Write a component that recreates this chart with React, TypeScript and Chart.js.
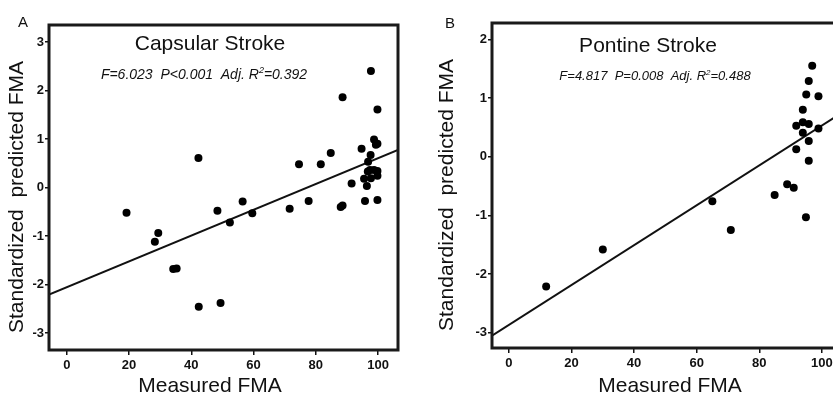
import React, { useEffect, useRef } from "react";
import { Chart, registerables } from "chart.js";

Chart.register(...registerables);

// ---------- Data ----------
const capsularX = [19.2, 28.3, 29.4, 34.2, 35.3, 42.3, 42.4, 48.4, 49.4, 52.4, 56.5, 59.6, 71.6, 74.6, 77.7, 81.6, 84.8, 88.0, 88.6, 88.6, 91.5, 94.7, 95.5, 95.8, 96.4, 96.8, 97.6, 97.4, 96.7, 97.7, 97.7, 98.7, 98.7, 99.8, 99.3, 99.8, 99.8, 99.8, 99.8];
const capsularY = [-0.52, -1.12, -0.94, -1.68, -1.67, 0.61, -2.46, -0.48, -2.38, -0.72, -0.29, -0.53, -0.44, 0.48, -0.28, 0.48, 0.71, -0.40, -0.37, 1.86, 0.08, 0.80, 0.18, -0.28, 0.03, 0.53, 0.67, 0.36, 0.33, 0.19, 2.40, 0.36, 0.99, 0.90, 0.88, 1.61, 0.34, 0.24, -0.26];
const capsularFit = { intercept: -2.058, slope: 0.02664 };

const pontineX = [11.9, 30.0, 65.0, 70.9, 84.9, 88.9, 91.0, 91.8, 91.8, 93.9, 93.9, 93.9, 94.9, 95.0, 95.8, 95.8, 95.8, 95.8, 96.9, 98.9, 98.9];
const pontineY = [-2.21, -1.58, -0.76, -1.25, -0.65, -0.47, -0.53, 0.13, 0.53, 0.80, 0.59, 0.41, -1.03, 1.06, 1.29, 0.56, 0.27, -0.07, 1.55, 1.03, 0.48];
const pontineFit = { intercept: -2.866, slope: 0.034 };

const xTicks = [0, 20, 40, 60, 80, 100];
const yTicksA = [-3, -2, -1, 0, 1, 2, 3];
const yTicksB = [-3, -2, -1, 0, 1, 2];

const FONT = "'Liberation Sans', Arial, Helvetica, sans-serif";

type PanelCfg = {
  xs: number[];
  ys: number[];
  fit: { intercept: number; slope: number };
  xMin: number;
  xMax: number;
  yMin: number;
  yMax: number;
  yTicks: number[];
  letter: string;
  title: string;
  statsPre: string;
  statsPost: string;
  statsSize: number;
  yAxisWidth: number;
  xAxisHeight: number;
  padTop: number;
  padRight: number;
  letterPos: [number, number];
  titlePos: [number, number];
  statsPos: [number, number];
  yTitlePos: [number, number];
  xTitlePos: [number, number];
};

function makeChart(canvas: HTMLCanvasElement, c: PanelCfg) {
  const textPlugin = {
    id: "panelText",
    afterDraw(chart: any) {
      const ctx = chart.ctx as CanvasRenderingContext2D;
      const a = chart.chartArea;
      ctx.save();
      // box
      ctx.strokeStyle = "#1a1a1a";
      ctx.lineWidth = 3;
      ctx.strokeRect(a.left, a.top, a.right - a.left, a.bottom - a.top);
      ctx.fillStyle = "#111";
      // letter
      ctx.font = `15px ${FONT}`;
      ctx.textAlign = "left";
      ctx.textBaseline = "alphabetic";
      ctx.fillText(c.letter, c.letterPos[0], c.letterPos[1]);
      // title
      ctx.font = `21px ${FONT}`;
      ctx.textAlign = "center";
      ctx.fillText(c.title, c.titlePos[0], c.titlePos[1]);
      // stats with superscript
      const f = `italic ${c.statsSize}px ${FONT}`;
      const fs = `italic ${Math.round(c.statsSize * 0.62)}px ${FONT}`;
      ctx.font = f;
      const w1 = ctx.measureText(c.statsPre).width;
      const w3 = ctx.measureText(c.statsPost).width;
      ctx.font = fs;
      const w2 = ctx.measureText("2").width;
      let x = c.statsPos[0] - (w1 + w2 + w3) / 2;
      const y = c.statsPos[1];
      ctx.textAlign = "left";
      ctx.font = f;
      ctx.fillText(c.statsPre, x, y);
      x += w1;
      ctx.font = fs;
      ctx.fillText("2", x, y - c.statsSize * 0.42);
      x += w2;
      ctx.font = f;
      ctx.fillText(c.statsPost, x, y);
      // axis titles
      ctx.font = `21px ${FONT}`;
      ctx.textAlign = "center";
      ctx.textBaseline = "alphabetic";
      ctx.fillText("Measured FMA", c.xTitlePos[0], c.xTitlePos[1]);
      ctx.translate(c.yTitlePos[0], c.yTitlePos[1]);
      ctx.rotate(-Math.PI / 2);
      ctx.textBaseline = "middle";
      ctx.fillText("Standardized  predicted FMA", 0, 0);
      ctx.restore();
    },
  };

  const points = c.xs.map((x, i) => ({ x, y: c.ys[i] }));
  const line = [
    { x: c.xMin, y: c.fit.intercept + c.fit.slope * c.xMin },
    { x: c.xMax, y: c.fit.intercept + c.fit.slope * c.xMax },
  ];

  return new Chart(canvas, {
    type: "scatter",
    data: {
      datasets: [
        {
          data: points,
          backgroundColor: "#000",
          borderColor: "#000",
          pointRadius: 4,
          pointHoverRadius: 4,
          borderWidth: 0,
        },
        {
          type: "line",
          data: line,
          borderColor: "#111",
          borderWidth: 2,
          pointRadius: 0,
          fill: false,
        } as any,
      ],
    },
    options: {
      responsive: false,
      animation: false,
      events: [],
      layout: { padding: { top: c.padTop, right: c.padRight, left: 0, bottom: 0 } },
      plugins: { legend: { display: false }, tooltip: { enabled: false }, title: { display: false } },
      scales: {
        x: {
          type: "linear",
          min: c.xMin,
          max: c.xMax,
          afterBuildTicks: (s: any) => {
            s.ticks = xTicks.map((v) => ({ value: v }));
          },
          afterFit: (s: any) => {
            s.height = c.xAxisHeight;
          },
          grid: { display: true, drawOnChartArea: false, drawTicks: true, tickLength: 5, color: "#111", lineWidth: 1.5 },
          border: { display: false },
          ticks: { color: "#111", font: { family: FONT, size: 13, weight: "bold" }, padding: 3, maxRotation: 0 },
        },
        y: {
          type: "linear",
          min: c.yMin,
          max: c.yMax,
          afterBuildTicks: (s: any) => {
            s.ticks = c.yTicks.map((v) => ({ value: v }));
          },
          afterFit: (s: any) => {
            s.width = c.yAxisWidth;
          },
          grid: { display: true, drawOnChartArea: false, drawTicks: true, tickLength: 4, color: "#111", lineWidth: 1.5 },
          border: { display: false },
          ticks: { color: "#111", font: { family: FONT, size: 13, weight: "bold" }, padding: 1 },
        },
      },
    },
    plugins: [textPlugin],
  } as any);
}

const panelA: PanelCfg = {
  xs: capsularX,
  ys: capsularY,
  fit: capsularFit,
  xMin: -5.7,
  xMax: 106.4,
  yMin: -3.35,
  yMax: 3.35,
  yTicks: yTicksA,
  letter: "A",
  title: "Capsular Stroke",
  statsPre: "F=6.023  P<0.001  Adj. R",
  statsPost: "=0.392",
  statsSize: 14,
  yAxisWidth: 49,
  xAxisHeight: 47,
  padTop: 25,
  padRight: 12,
  letterPos: [18, 27],
  titlePos: [210, 50],
  statsPos: [204, 79],
  yTitlePos: [17, 197],
  xTitlePos: [210, 392],
};

const panelB: PanelCfg = {
  xs: pontineX,
  ys: pontineY,
  fit: pontineFit,
  xMin: -5.4,
  xMax: 106.1,
  yMin: -3.26,
  yMax: 2.28,
  yTicks: yTicksB,
  letter: "B",
  title: "Pontine Stroke",
  statsPre: "F=4.817  P=0.008  Adj. R",
  statsPost: "=0.488",
  statsSize: 13,
  yAxisWidth: 82,
  xAxisHeight: 49,
  padTop: 23,
  padRight: 9,
  letterPos: [35, 28],
  titlePos: [238, 52],
  statsPos: [245, 80],
  yTitlePos: [37, 195],
  xTitlePos: [260, 392],
};

export default function App() {
  const refA = useRef<HTMLCanvasElement>(null);
  const refB = useRef<HTMLCanvasElement>(null);
  useEffect(() => {
    const a = makeChart(refA.current!, panelA);
    const b = makeChart(refB.current!, panelB);
    return () => {
      a.destroy();
      b.destroy();
    };
  }, []);
  return (
    <div style={{ position: "fixed", left: 0, top: 0, width: 833, height: 397, overflow: "hidden", background: "#fff" }}>
      <canvas ref={refA} width={410} height={397} style={{ position: "absolute", left: 0, top: 0 }} />
      <canvas ref={refB} width={440} height={397} style={{ position: "absolute", left: 410, top: 0 }} />
    </div>
  );
}
